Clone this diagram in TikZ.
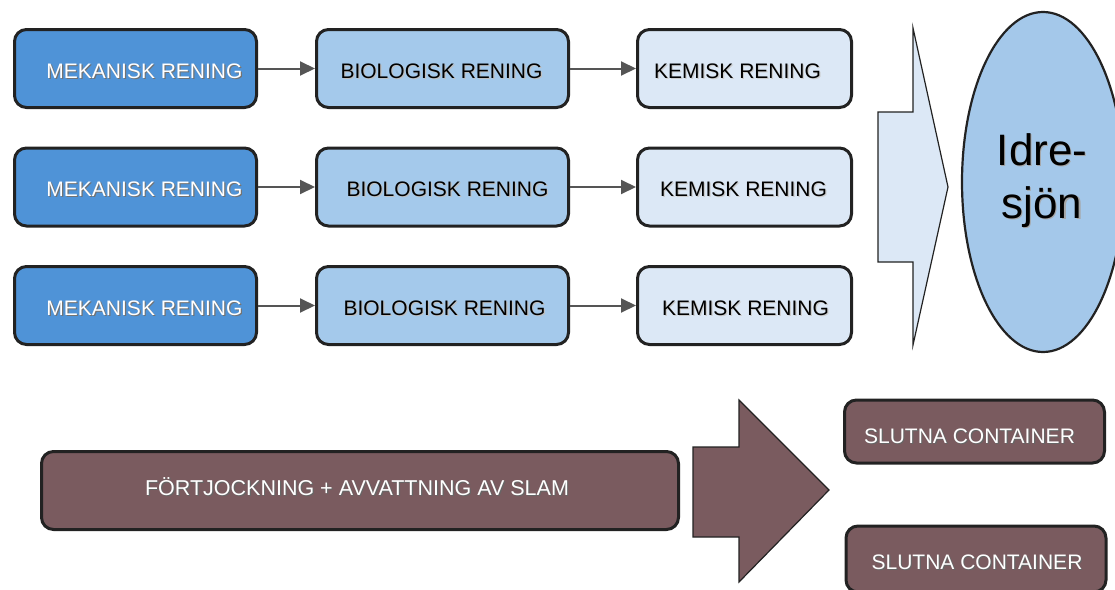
\documentclass[tikz,border=0pt]{standalone}
\usepackage{fontspec}
\setmainfont{Liberation Sans}
\usetikzlibrary{arrows.meta,shapes.geometric}
\definecolor{mekblue}{RGB}{79,147,215}
\definecolor{bioblue}{RGB}{164,201,235}
\definecolor{kemblue}{RGB}{220,232,246}
\definecolor{lakeblue}{RGB}{164,200,234}
\definecolor{sludge}{RGB}{122,91,95}
\definecolor{edge}{RGB}{34,34,34}
\definecolor{conn}{RGB}{85,85,85}
\newcommand{\shtxt}[2]{\makebox[0pt][l]{\hspace{1.2pt}\raisebox{-1.2pt}{\color{#2}#1}}#1}
\begin{document}
\begin{tikzpicture}[x=1pt,y=-1pt,
  procbox/.style={draw=edge,line width=3pt,rounded corners=12pt,minimum height=78pt,inner sep=0pt,font=\fontsize{21}{25}\selectfont,text height=19pt,text depth=0pt},
  mek/.style={procbox,fill=mekblue,text=white,minimum width=242pt},
  bio/.style={procbox,fill=bioblue,text=black,minimum width=252pt},
  kem/.style={procbox,fill=kemblue,text=black,minimum width=214pt},
  slam/.style={procbox,fill=sludge,text=white},
  flow/.style={draw=conn,line width=2pt,-{Triangle[length=15pt,width=14pt]}},
  bigarrow/.style={draw=edge,line width=1.2pt,line join=miter}
]
\useasboundingbox (0,0) rectangle (1115,589);
\clip (0,0) rectangle (1115,589);

% big light arrow
\draw[bigarrow,fill=kemblue] (878,112) -- (913,112) -- (913,28) -- (948,187) -- (913,345) -- (913,262) -- (878,262) -- cycle;

% lake
\node[ellipse,draw=edge,line width=2.2pt,fill=lakeblue,minimum width=162pt,minimum height=340pt,inner sep=0pt] (lake) at (1043,182) {};
\node[font=\fontsize{44}{53}\selectfont,align=center] (laketxt) at (1042,181) {\shtxt{Idre-}{black!35}\\\shtxt{sjön}{black!35}};

% rows
\foreach \r/\y in {1/68.5,2/187,3/305.5}{
  \node[mek] (m\r) at (135.5,\y) {\hspace*{18pt}\shtxt{MEKANISK RENING}{black!55}};
}
\node[bio] (b1) at (442.5,68.5) {\hspace*{-2pt}\shtxt{BIOLOGISK RENING}{black!25}};
\node[bio] (b2) at (442.5,187) {\hspace*{10pt}\shtxt{BIOLOGISK RENING}{black!25}};
\node[bio] (b3) at (442.5,305.5) {\hspace*{4pt}\shtxt{BIOLOGISK RENING}{black!25}};
\node[kem] (k1) at (744.5,68.5) {\hspace*{-14pt}\shtxt{KEMISK RENING}{black!20}};
\node[kem] (k2) at (744.5,187) {\hspace*{-2pt}\shtxt{KEMISK RENING}{black!20}};
\node[kem] (k3) at (744.5,305.5) {\hspace*{2pt}\shtxt{KEMISK RENING}{black!20}};
\foreach \r in {1,2,3}{
  \draw[flow] (m\r) -- (b\r);
  \draw[flow] (b\r) -- (k\r);
}

% sludge line
\node[slam,minimum width=637pt,minimum height=78pt,text height=9pt,font=\fontsize{21.5}{25}\selectfont] (fort) at (360,490.5) {\hspace*{-6pt}\shtxt{FÖRTJOCKNING + AVVATTNING AV SLAM}{black!60}};
\draw[bigarrow,fill=sludge] (693,447) -- (739,447) -- (739,400) -- (829,490) -- (739,582) -- (739,537) -- (693,537) -- cycle;
\node[slam,minimum width=260pt,minimum height=63pt,text height=23pt] (c1) at (974.5,431.5) {\hspace*{-10pt}\shtxt{SLUTNA CONTAINER}{black!60}};
\node[slam,minimum width=260pt,minimum height=66pt,text height=21pt] (c2) at (976,559) {\hspace*{2pt}\shtxt{SLUTNA CONTAINER}{black!60}};
\end{tikzpicture}
\end{document}
